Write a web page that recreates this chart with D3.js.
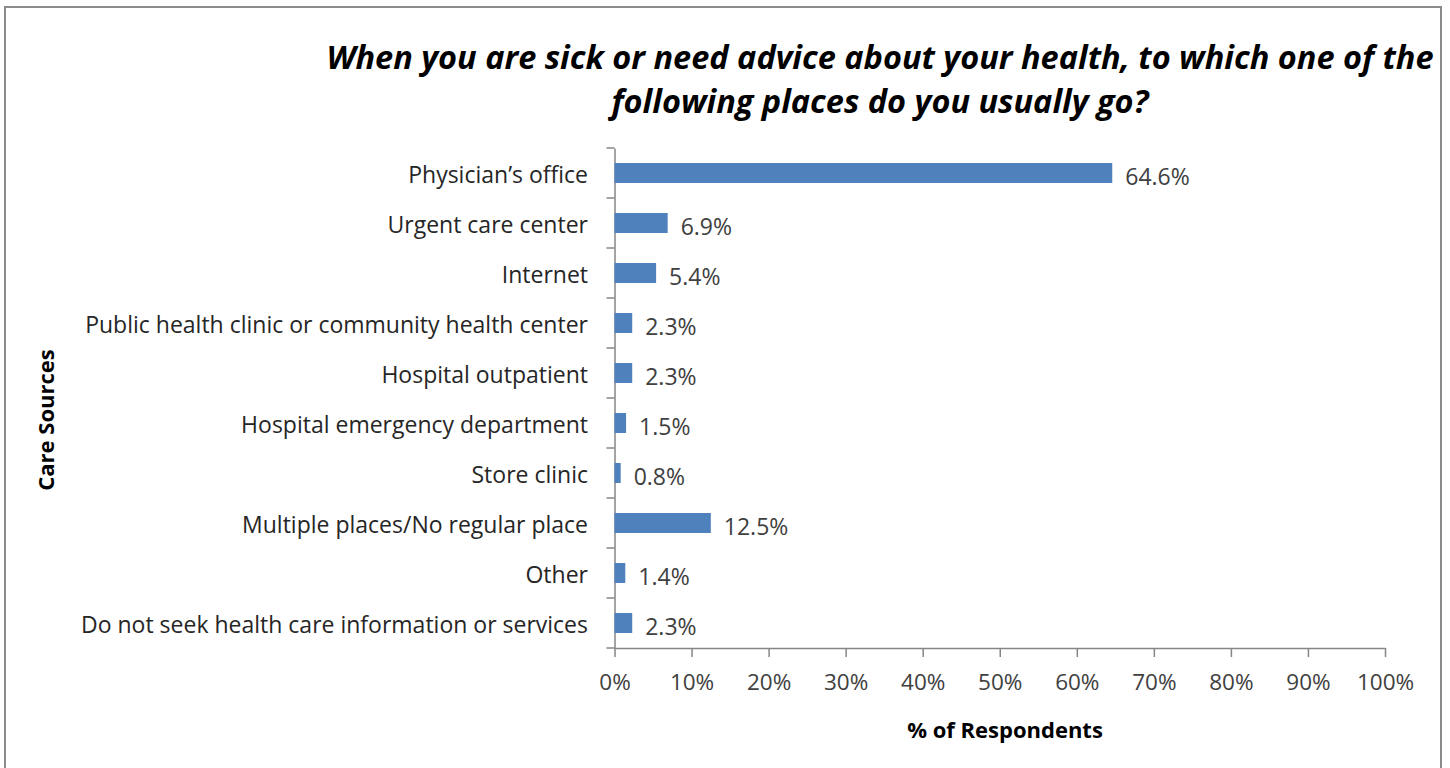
<!DOCTYPE html>
<html><head><meta charset="utf-8">
<script src="https://cdn.jsdelivr.net/npm/d3@7"></script>
<style>body{margin:0;background:#fff;} svg{display:block;font-family:"Open Sans",sans-serif;}</style>
</head><body>
<svg id="c" width="1450" height="768"></svg>
<script>
const categories = ["Physician\u2019s office","Urgent care center","Internet","Public health clinic or community health center","Hospital outpatient","Hospital emergency department","Store clinic","Multiple places/No regular place","Other","Do not seek health care information or services"];
const values = [64.6, 6.9, 5.4, 2.3, 2.3, 1.5, 0.8, 12.5, 1.4, 2.3];
const tickValues = [0,10,20,30,40,50,60,70,80,90,100];
const titleLines = ["When you are sick or need advice about your health, to which one of the","following places do you usually go?"];

const svg = d3.select("#c");
svg.append("rect").attr("x",5).attr("y",7).attr("width",1436).attr("height",780)
  .attr("fill","#fff").attr("stroke","#8c8c8c").attr("stroke-width",2);

const x = d3.scaleLinear().domain([0,100]).range([614.5,1385]);
const y = d3.scaleBand().domain(categories).range([148,648]).paddingInner(0.6).paddingOuter(0.3);
const band = d3.scaleBand().domain(categories).range([148,648]);

const xAxis = d3.axisBottom(x).tickValues(tickValues).tickFormat(d=>d+"%").tickSize(9).tickSizeOuter(0);
const gx = svg.append("g").attr("transform","translate(0,648)").call(xAxis);
gx.select(".domain").attr("stroke","#868686").attr("stroke-width",1.5);
gx.selectAll(".tick line").attr("stroke","#868686").attr("stroke-width",1.5);
gx.selectAll(".tick text").attr("fill","#404040").attr("font-size",22.5).attr("font-family","Open Sans").attr("dy","1.35em");

const yAxis = d3.axisLeft(band).tickSize(8).tickSizeOuter(0).tickFormat("");
const gy = svg.append("g").attr("transform","translate(614.5,0)").call(yAxis);
gy.select(".domain").attr("stroke","#868686").attr("stroke-width",1.5);
gy.selectAll(".tick").remove();
const bounds = d3.range(categories.length+1).map(i=>148+i*band.step());
gy.selectAll("line.b").data(bounds).join("line").attr("class","b")
  .attr("x1",-8).attr("x2",0).attr("y1",d=>d).attr("y2",d=>d)
  .attr("stroke","#868686").attr("stroke-width",1.5);

svg.append("g").selectAll("text").data(categories).join("text")
  .attr("x",588).attr("y",d=>band(d)+band.bandwidth()/2)
  .attr("dy","0.43em").attr("text-anchor","end")
  .attr("font-size",23).attr("fill","#262626").text(d=>d);

const data = categories.map((c,i)=>({c,v:values[i]}));
svg.append("g").selectAll("rect").data(data).join("rect")
  .attr("x",x(0)).attr("y",d=>y(d.c)).attr("width",d=>x(d.v)-x(0)).attr("height",y.bandwidth())
  .attr("fill","#4F81BD");

svg.append("g").selectAll("text").data(data).join("text")
  .attr("x",d=>x(d.v)+13).attr("y",d=>y(d.c)+y.bandwidth()/2)
  .attr("dy","0.5em").attr("font-size",23).attr("fill","#404040")
  .text(d=>d.v.toFixed(1)+"%");

svg.append("g").selectAll("text").data(titleLines).join("text")
  .attr("x",880).attr("y",(d,i)=>69+i*44).attr("text-anchor","middle")
  .attr("font-size",32.5).attr("font-weight","bold").attr("font-style","italic").attr("fill","#000")
  .text(d=>d);

svg.append("text").attr("transform","translate(54,420) rotate(-90)").attr("text-anchor","middle")
  .attr("font-size",22).attr("font-weight","bold").attr("fill","#000").text("Care Sources");
svg.append("text").attr("x",1005).attr("y",738).attr("text-anchor","middle")
  .attr("font-size",22).attr("font-weight","bold").attr("fill","#000").text("% of Respondents");
</script>
</body></html>
